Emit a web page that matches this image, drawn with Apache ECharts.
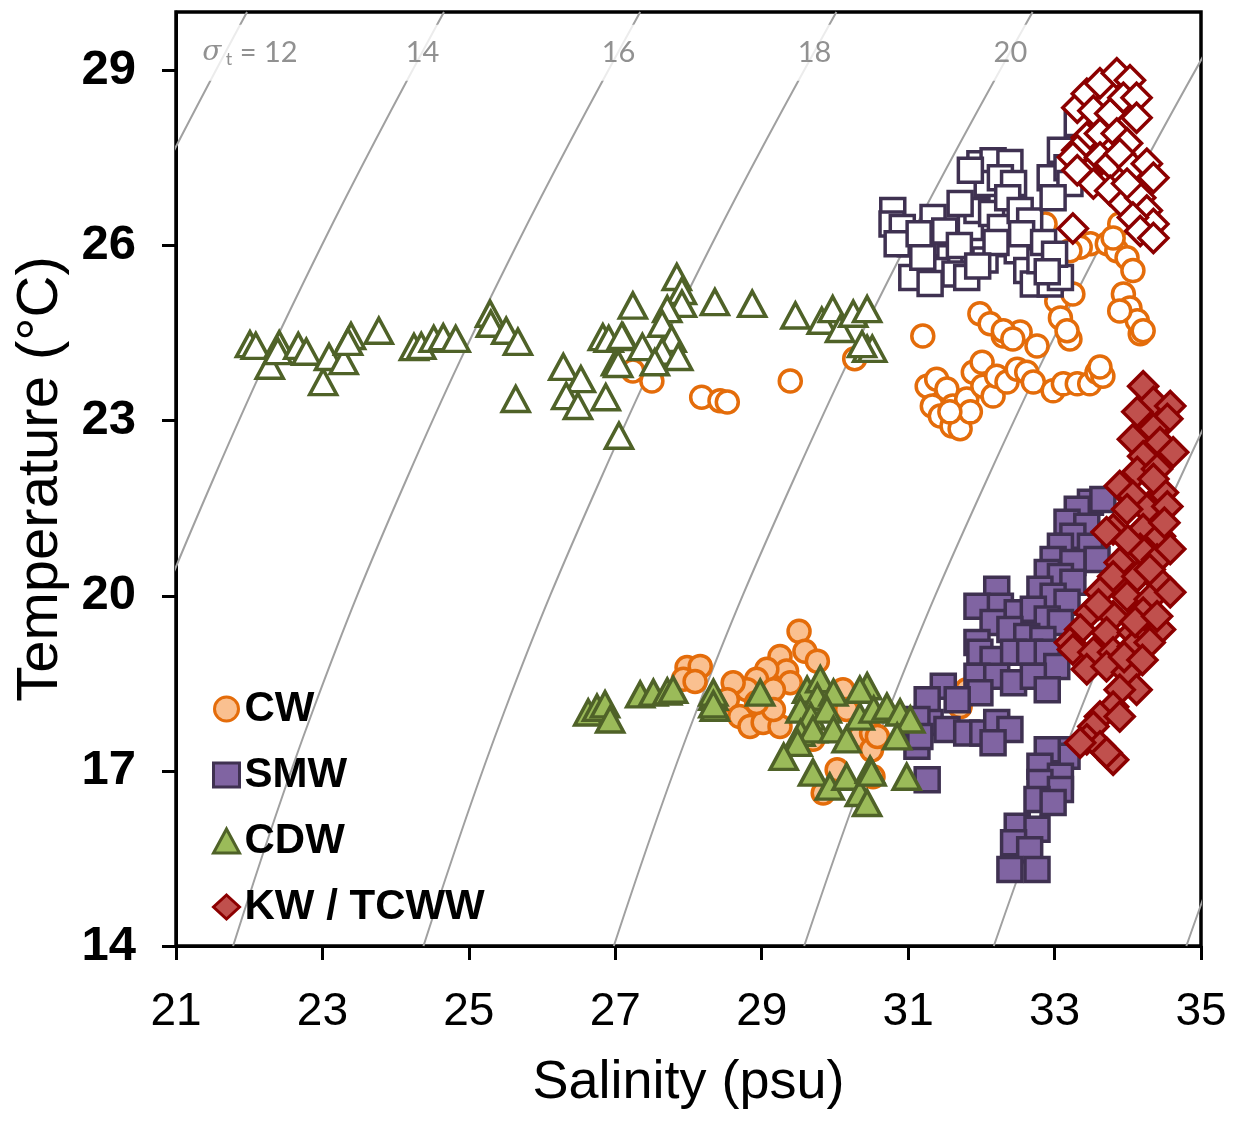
<!DOCTYPE html>
<html><head><meta charset="utf-8">
<script src="https://cdn.jsdelivr.net/npm/echarts@6/dist/echarts.min.js"></script>
<style>html,body{margin:0;padding:0;background:#fff}#c{width:1246px;height:1121px}</style>
</head><body><div id="c"></div>
<script>
// ---- axis ticks ----
const xTicks = [21, 23, 25, 27, 29, 31, 33, 35];
const yTicks = [14, 17, 20, 23, 26, 29];

// ---- isopycnals (sigma-t): salinity read at temperatures isoT ----
const isoT = [14, 18, 22, 26, 30];
const iso12 = [16.58, 17.60, 18.86, 20.32, 21.97];
const iso14 = [19.18, 20.23, 21.51, 22.99, 24.66];
const iso16 = [21.78, 22.86, 24.15, 25.65, 27.34];
const iso18 = [24.38, 25.48, 26.80, 28.31, 30.02];
const iso20 = [26.98, 28.10, 29.44, 30.97, 32.70];
const iso22 = [29.58, 30.72, 32.08, 33.63, 35.37];
const iso24 = [32.17, 33.34, 34.71, 36.28, 38.04];
const iso26 = [34.80, 35.99, 37.39, 38.97, 40.74];
const isoLevels = [12, 14, 16, 18, 20, 22, 24, 26];
const labelledLevels = [12, 14, 16, 18, 20];

// ---- water masses [salinity, temperature] ----
const cwUpper = [[27.24,23.85],[27.50,23.68],[28.18,23.40],[28.43,23.34],[28.53,23.32],[29.39,23.68],[30.27,24.06],
[31.20,24.45],[31.26,23.59],[31.39,23.71],[31.53,23.54],[31.33,23.25],[31.44,23.08],[31.60,22.91],[31.71,22.86],[31.61,23.25],[31.80,23.37],[31.89,23.83],[32.01,24.00],[32.02,23.59],[32.16,23.42],[32.21,23.76],[32.35,23.66],[32.49,23.88],[32.62,23.83],[32.71,23.66],[31.85,23.15],[31.57,23.15],[32.98,23.51],[33.12,23.63],[33.31,23.63],[33.48,23.63],[33.58,23.83],[33.66,23.76],[33.62,23.92],
[32.30,24.45],[32.53,24.52],[32.76,24.28],[33.21,24.40],[34.17,24.49],
[31.98,24.83],[32.12,24.66],[32.30,24.54],[32.43,24.40],
[33.03,25.05],[33.08,24.76],[33.17,24.54],[33.25,25.17],
[33.49,26.03],[33.72,26.03],[33.85,25.91],[33.99,25.79],[34.07,25.57],[33.35,25.97],[33.21,25.91],
[33.94,25.17],[34.03,24.93],[34.13,24.71],[34.21,24.54],[33.89,24.88],[33.89,26.37],[33.80,26.13],[32.71,26.30],[32.87,26.37]];

const cwLower = [[29.51,19.39],[29.59,19.05],[29.25,18.96],[29.76,18.88],[29.34,18.71],[29.07,18.74],[28.93,18.57],[29.39,18.51],[29.16,18.39],[28.80,18.39],[28.61,18.51],[28.53,18.22],[28.70,17.93],[28.84,17.76],[29.02,17.83],[29.25,17.76],[29.16,18.05],[28.93,18.17],
[27.98,18.77],[28.16,18.79],[27.93,18.57],[28.09,18.53],[30.11,18.39],[30.16,18.05],[30.34,17.59],[30.50,17.65],[30.50,17.36],[30.03,17.02],[29.84,16.62],[29.70,17.54],
[31.71,18.10],[31.80,18.39],[30.58,17.59],[30.52,16.90]];

const smwUpper = [[30.79,26.60],[30.78,26.37],[30.92,26.31],[31.03,26.03],[30.85,26.03],[31.05,25.45],[31.34,26.48],[31.41,26.03],[31.57,25.79],[31.39,25.57],[31.64,25.51],[31.80,25.45],[31.85,26.31],[31.94,26.60],[31.98,27.40],[32.16,27.45],[32.39,27.42],[32.08,27.06],[32.26,27.16],[32.44,27.06],[32.14,26.55],[32.26,26.31],[32.36,26.82],[32.53,26.60],[32.66,26.42],[32.35,26.03],[32.49,25.91],[32.62,25.57],[32.71,25.34],[32.94,25.34],[33.08,25.45],[32.80,25.74],[32.94,27.16],[33.08,27.63],[33.17,27.33],[33.21,27.06],[32.98,26.82],[33.31,28.09],[31.85,27.29],[31.71,26.72],
[31.20,25.80],[31.15,26.20],[31.50,26.25],[31.70,26.00],[32.05,25.75],[32.20,26.05],[32.55,26.20],[32.85,26.05],[33.00,25.85],[32.90,25.55],[31.30,25.35],[31.95,25.65]];

const smwLower = [[33.49,21.60],[33.66,21.65],[33.31,21.48],[33.17,21.26],[33.44,21.19],[33.25,21.02],[33.08,20.85],[33.49,20.85],[32.98,20.62],[33.58,20.62],[33.25,20.57],[32.90,20.40],[33.08,20.33],[33.25,20.23],[32.80,20.11],[32.98,19.99],[33.17,19.89],[32.21,20.11],[31.94,19.82],[32.26,19.82],[32.49,19.71],[32.71,19.77],[32.90,19.60],[33.08,19.54],[32.16,19.54],[32.39,19.42],[31.94,19.20],[32.62,19.30],[32.84,19.25],
[31.98,19.03],[32.16,18.91],[32.44,19.03],[32.66,19.03],[32.90,19.03],[33.03,18.79],[31.94,18.62],[32.21,18.62],[32.44,18.51],[32.71,18.62],[32.90,18.39],[31.98,18.34],[31.48,18.45],[31.67,18.22],[31.26,18.22],[31.30,17.83],[31.12,17.88],[31.12,17.42],[31.16,17.59],[31.53,17.71],[31.80,17.65],[32.02,17.65],[32.21,17.83],[32.39,17.71],[32.16,17.48],[31.26,16.85],
[33.08,17.36],[33.17,17.25],[32.90,17.36],[32.80,17.08],[33.08,16.91],[32.80,16.80],[33.08,16.68],[32.76,16.51],[32.98,16.46],[32.49,16.05],[32.76,16.00],[32.44,15.77],[32.66,15.65],[32.39,15.31],[32.76,15.31]];

const cdwUpper = [[22.01,24.31],[22.09,24.28],[22.28,23.94],[22.41,24.31],[22.39,24.19],[22.67,24.28],[22.78,24.18],[23.01,23.66],[23.09,24.09],[23.29,24.02],[23.39,24.45],[23.35,24.35],[23.77,24.54],[24.25,24.26],[24.35,24.28],[24.52,24.40],[24.65,24.43],[24.82,24.40],[25.29,24.83],[25.30,24.66],[25.51,24.54],[25.67,24.35],[25.64,23.37],[26.29,23.92],[26.53,23.71],[26.33,23.42],[26.49,23.25],[26.87,23.40],[27.05,22.74],[26.83,24.43],[26.91,24.40],[27.11,24.43],[27.01,24.00],[27.24,24.97],[27.84,25.46],[27.91,25.22],[27.91,25.00],[27.71,24.91],[27.64,24.66],[27.77,24.40],[27.09,24.45],[27.37,24.26],[27.64,24.18],[27.86,24.09],[27.04,23.97],[27.54,24.00],[28.36,25.03],[28.87,25.00],[29.46,24.80],[29.82,24.71],[29.97,24.91],[30.07,24.57],[30.25,24.83],[30.44,24.91],[30.44,24.23],[30.51,24.23],[30.37,24.31]];

const cdwLower = [[26.63,18.00],[26.75,18.08],[26.86,18.14],[26.93,17.88],[27.34,18.31],[27.52,18.34],[27.71,18.36],[27.79,18.39],[28.34,18.27],[28.36,18.08],[28.34,18.34],[28.34,18.14],[28.98,18.34],[29.62,18.39],[29.80,18.57],[29.76,18.27],[29.98,18.34],[29.53,18.05],[29.67,17.93],[29.89,18.05],[29.53,17.65],[29.70,17.71],[29.98,17.71],[29.49,17.48],[30.16,17.54],[30.34,17.93],[30.44,18.45],[30.34,18.39],[30.53,18.05],[30.71,18.10],[30.89,18.00],[31.03,17.88],[30.85,17.59],[29.30,17.24],[29.70,16.97],[29.93,16.73],[30.16,16.90],[30.34,16.62],[30.44,16.45],[30.48,17.02],[30.50,16.97],[30.98,16.90]];

const kwUpper = [[33.25,26.29],[33.31,28.36],[33.44,28.60],[33.62,28.78],[33.85,28.95],[34.03,28.83],[33.53,28.31],[33.76,28.26],[33.94,28.53],[34.12,28.53],[34.12,28.19],[33.44,27.85],[33.62,27.92],[33.85,27.92],[33.99,27.75],[33.31,27.63],[33.25,27.51],[33.53,27.33],[33.62,27.51],[33.76,27.40],[33.89,27.57],[34.07,27.33],[34.26,27.40],[34.35,27.16],[33.53,27.06],[33.76,26.94],[33.94,26.72],[34.17,26.82],[34.26,26.60],[34.35,26.37],[34.07,26.48],[34.17,26.25],[34.35,26.13],[33.99,27.06],[33.31,27.29]];

const kwLower = [[34.21,23.59],[34.35,23.32],[34.58,23.25],[34.13,23.15],[34.54,23.03],[34.35,22.86],[34.07,22.68],[34.44,22.63],[34.62,22.46],[34.21,22.39],[34.13,22.12],[34.40,22.17],[33.89,21.88],[34.07,21.71],[34.48,21.77],[34.26,21.48],[34.54,21.53],[33.99,21.48],[33.80,21.14],[34.21,21.14],[34.44,21.02],[33.71,21.09],[34.17,20.80],[33.89,20.57],[34.40,20.62],[34.58,20.80],[33.80,20.33],[34.13,20.33],[34.44,20.23],[33.62,20.06],[33.99,19.99],[34.30,19.94],[34.58,20.06],[33.48,19.71],[33.80,19.65],[34.21,19.71],[33.35,19.42],[33.71,19.37],[34.07,19.37],[34.44,19.42],[33.21,19.20],
[33.25,19.08],[33.53,19.03],[33.80,19.03],[34.07,19.13],[34.30,19.20],[33.44,18.74],[33.71,18.79],[33.99,18.69],[34.12,18.39],[33.89,18.39],[33.80,18.10],[33.62,17.93],[33.53,17.76],[33.89,17.93],[33.44,17.54],[33.62,17.42],[33.80,17.19],[33.71,17.31],[33.35,17.48],
[34.35,22.00],[34.50,21.25],[34.30,20.45],[34.00,20.95],[33.60,19.85],[34.10,19.55],[34.40,19.65],[33.95,18.95],[34.20,18.90]];

// ---- styling ----
const FONT = "'Liberation Sans', Arial, sans-serif";
const isoData = { 12: iso12, 14: iso14, 16: iso16, 18: iso18, 20: iso20, 22: iso22, 24: iso24, 26: iso26 };
const LABEL_T = 29.3;
function sAt(arr, t) {
  for (let i = 0; i < isoT.length - 1; i++) {
    if (t >= isoT[i] && t <= isoT[i + 1]) {
      const f = (t - isoT[i]) / (isoT[i + 1] - isoT[i]);
      return arr[i] + f * (arr[i + 1] - arr[i]);
    }
  }
  return arr[arr.length - 1];
}

const series = [];
isoLevels.forEach(lv => {
  series.push({
    type: 'line', name: 'iso' + lv, data: isoT.map((t, i) => [isoData[lv][i], t]),
    smooth: 0.4, showSymbol: false, symbol: 'none', clip: true, silent: true, z: 1,
    lineStyle: { color: '#a0a0a0', width: 2 }, legendHoverLink: false
  });
});
const GRAY = '#767676';
series.push({
  type: 'scatter', name: 'isoLabels', z: 3, silent: true, symbolSize: 1,
  itemStyle: { color: 'rgba(0,0,0,0)' },
  data: labelledLevels.map(lv => {
    const first = lv === labelledLevels[0];
    return {
      value: [sAt(isoData[lv], LABEL_T), LABEL_T],
      label: {
        show: true, position: 'inside', offset: first ? [24, 0] : [0, 0],
        formatter: first ? '{g|σ}{t| t}{n| = ' + lv + '}' : '{n|' + lv + '}',
        backgroundColor: '#fff', padding: [13, 6, 13, 6],
        rich: {
          g: { fontFamily: "'DejaVu Serif', serif", fontStyle: 'italic', fontSize: 28, color: GRAY, lineHeight: 30 },
          t: { fontFamily: "Lato, sans-serif", fontSize: 18, color: GRAY, lineHeight: 30, verticalAlign: 'bottom', padding: [16, 0, 0, 0] },
          n: { fontFamily: "Lato, sans-serif", fontSize: 29, color: GRAY, lineHeight: 30 }
        }
      }
    };
  })
});

const C = {
  cw: { border: '#E46C0A', fill: '#FAC090' },
  smw: { border: '#3F3151', fill: '#8064A2' },
  cdw: { border: '#4F6228', fill: '#9BBB59' },
  kw: { border: '#8C0000', fill: '#C0504D' }
};
function sc(name, data, symbol, size, col, hollow) {
  return {
    type: 'scatter', name, data, symbol, symbolSize: size, z: 5,
    itemStyle: { color: hollow ? '#ffffff' : col.fill, borderColor: col.border, borderWidth: 3.5, opacity: 1 }
  };
}
series.push(sc('CW', cwUpper, 'circle', 22, C.cw, true));
series.push(sc('CW', cwLower, 'circle', 22, C.cw, false));
series.push(sc('SMW', smwUpper, 'rect', 24, C.smw, true));
series.push(sc('SMW', smwLower, 'rect', 24, C.smw, false));
series.push(sc('CDW', cdwUpper, 'triangle', [27, 25], C.cdw, true));
series.push(sc('CDW', cdwLower, 'triangle', [27, 25], C.cdw, false));
series.push(sc('KW / TCWW', kwUpper, 'diamond', 29, C.kw, true));
series.push(sc('KW / TCWW', kwLower, 'diamond', 29, C.kw, false));

const chart = echarts.init(document.getElementById('c'), null, { renderer: 'canvas' });
chart.setOption({
  animation: false,
  backgroundColor: '#fff',
  grid: { left: 176, right: 45, top: 12, bottom: 175, show: true, borderColor: '#000', borderWidth: 3.5, backgroundColor: 'transparent' },
  xAxis: {
    type: 'value', min: 21, max: 35, interval: 2,
    name: 'Salinity (psu)', nameLocation: 'middle', nameGap: 110,
    nameTextStyle: { fontSize: 54, fontFamily: FONT, color: '#000' },
    axisLine: { show: true, onZero: false, lineStyle: { color: '#000', width: 3 } },
    axisTick: { show: true, inside: false, length: 14, lineStyle: { color: '#000', width: 3 }, customValues: xTicks },
    axisLabel: { fontSize: 46, fontFamily: FONT, color: '#000', margin: 43, customValues: xTicks },
    splitLine: { show: false }
  },
  yAxis: {
    type: 'value', min: 14, max: 30, interval: 3,
    name: 'Temperature (°C)', nameLocation: 'middle', nameGap: 106, nameRotate: 90,
    nameTextStyle: { fontSize: 58, fontFamily: FONT, color: '#000' },
    axisLine: { show: true, onZero: false, lineStyle: { color: '#000', width: 3 } },
    axisTick: { show: true, inside: false, length: 14, lineStyle: { color: '#000', width: 3 }, customValues: yTicks },
    axisLabel: { fontSize: 49, fontWeight: 'bold', fontFamily: FONT, color: '#000', margin: 40, customValues: yTicks },
    splitLine: { show: false }
  },
  legend: {
    orient: 'vertical', left: 207, top: 681, itemWidth: 26, itemHeight: 24, itemGap: 20,
    selectedMode: false,
    textStyle: { fontSize: 42, fontWeight: 'bold', fontFamily: FONT, color: '#000', lineHeight: 46 },
    data: [
      { name: 'CW', icon: 'circle', itemStyle: { color: C.cw.fill, borderColor: C.cw.border, borderWidth: 3 } },
      { name: 'SMW', icon: 'rect', itemStyle: { color: C.smw.fill, borderColor: C.smw.border, borderWidth: 3 } },
      { name: 'CDW', icon: 'triangle', itemStyle: { color: C.cdw.fill, borderColor: C.cdw.border, borderWidth: 3 } },
      { name: 'KW / TCWW', icon: 'diamond', itemStyle: { color: C.kw.fill, borderColor: C.kw.border, borderWidth: 3 } }
    ]
  },
  series
});
</script></body></html>
